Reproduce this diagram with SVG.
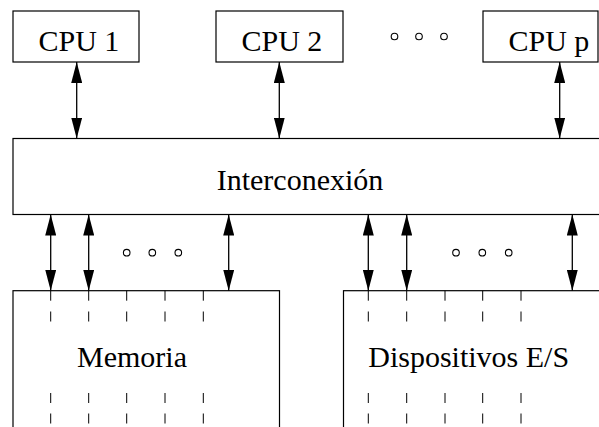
<svg xmlns="http://www.w3.org/2000/svg" width="599" height="427" viewBox="0 0 599 427">
<style>
.box{fill:#fff;stroke:#000;stroke-width:1.2}
.lbl{font-family:"Liberation Serif","Times New Roman",serif;font-size:30px;fill:#000}
.con{stroke:#000;stroke-width:1.3;fill:none;marker-start:url(#ah);marker-end:url(#ah)}
.dash{stroke:#000;stroke-width:1}
.dot{fill:none;stroke:#000;stroke-width:1.1}
</style>
<defs>
<marker id="ah" viewBox="0 0 21 11" refX="21" refY="5.5" markerWidth="21" markerHeight="11" markerUnits="userSpaceOnUse" orient="auto-start-reverse">
<path d="M0,0 L21,5.5 L0,11 Z" fill="#000"/>
</marker>
</defs>
<g id="cpu1"><rect class="box" x="13" y="11" width="126" height="51"/><text class="lbl" x="38.5" y="50.5">CPU 1</text></g>
<g id="cpu2"><rect class="box" x="216" y="11" width="127" height="51"/><text class="lbl" x="241.5" y="50.5">CPU 2</text></g>
<g id="cpup"><rect class="box" x="483" y="11" width="115" height="51"/><text class="lbl" x="508.5" y="50.5">CPU p</text></g>
<g id="dots-top"><circle class="dot" cx="394.5" cy="36.5" r="3.3"/><circle class="dot" cx="419" cy="36.5" r="3.3"/><circle class="dot" cx="444" cy="36.5" r="3.3"/></g>
<g id="interconexion"><rect class="box" x="13" y="138.5" width="600" height="76"/><text class="lbl" x="300" y="190" text-anchor="middle">Interconexión</text></g>
<g id="memoria"><rect class="box" x="13" y="290.7" width="266.5" height="150"/><text class="lbl" x="132" y="366.7" text-anchor="middle">Memoria</text>
<g class="dash">
<path d="M50.7 290.7v10M50.7 311.5v10M50.7 393v10M50.7 413.5v10M88.7 290.7v10M88.7 311.5v10M88.7 393v10M88.7 413.5v10M126.7 290.7v10M126.7 311.5v10M126.7 393v10M126.7 413.5v10M165 290.7v10M165 311.5v10M165 393v10M165 413.5v10M203.3 290.7v10M203.3 311.5v10M203.3 393v10M203.3 413.5v10" stroke="#000"/>
</g></g>
<g id="dispositivos"><rect class="box" x="343.5" y="290.7" width="270" height="150"/><text class="lbl" x="468.7" y="366.7" text-anchor="middle">Dispositivos E/S</text>
<g class="dash">
<path d="M368.3 290.7v10M368.3 311.5v10M368.3 393v10M368.3 413.5v10M406.7 290.7v10M406.7 311.5v10M406.7 393v10M406.7 413.5v10M445 290.7v10M445 311.5v10M445 393v10M445 413.5v10M482.7 290.7v10M482.7 311.5v10M482.7 393v10M482.7 413.5v10M521 290.7v10M521 311.5v10M521 393v10M521 413.5v10" stroke="#000"/>
</g></g>
<g id="dots-mem"><circle class="dot" cx="126.7" cy="252.7" r="3.3"/><circle class="dot" cx="152.3" cy="252.7" r="3.3"/><circle class="dot" cx="178.3" cy="252.7" r="3.3"/></g>
<g id="dots-io"><circle class="dot" cx="456" cy="252.7" r="3.3"/><circle class="dot" cx="482.3" cy="252.7" r="3.3"/><circle class="dot" cx="508.7" cy="252.7" r="3.3"/></g>
<g id="connectors">
<line class="con" x1="76.7" y1="62" x2="76.7" y2="138.5"/>
<line class="con" x1="279.3" y1="62" x2="279.3" y2="138.5"/>
<line class="con" x1="559.7" y1="62" x2="559.7" y2="138.5"/>
<line class="con" x1="50.7" y1="214.5" x2="50.7" y2="290.7"/>
<line class="con" x1="88.7" y1="214.5" x2="88.7" y2="290.7"/>
<line class="con" x1="228.7" y1="214.5" x2="228.7" y2="290.7"/>
<line class="con" x1="368.3" y1="214.5" x2="368.3" y2="290.7"/>
<line class="con" x1="406.7" y1="214.5" x2="406.7" y2="290.7"/>
<line class="con" x1="572.3" y1="214.5" x2="572.3" y2="290.7"/>
</g>
</svg>
